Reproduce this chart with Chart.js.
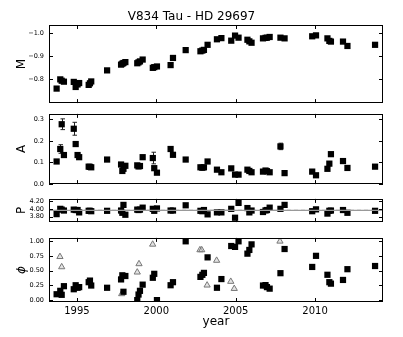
<!DOCTYPE html>
<html>
<head>
<meta charset="utf-8">
<script src="https://cdn.jsdelivr.net/npm/chart.js@4"></script>
<style>
  body { margin: 0; background: #fff; }
  #wrap { position: relative; width: 403px; height: 337px; }
  #wrap canvas { position: absolute; left: 0; }
</style>
</head>
<body>
<div id="wrap">
  <canvas id="cM" width="403" height="112" style="top:0"></canvas>
  <canvas id="cA" width="403" height="88" style="top:105px"></canvas>
  <canvas id="cP" width="403" height="41" style="top:190px"></canvas>
  <canvas id="cPhi" width="403" height="108" style="top:229px"></canvas>
</div>
<script>
// observing epochs (shared by the M, A, P and phi panels)
var year = [1993.72, 1993.95, 1994.04, 1994.18, 1994.80, 1994.92, 1995.04, 1995.14, 1995.74, 1995.82,
            1995.90, 1996.90, 1997.78, 1997.86, 1997.93, 1998.05, 1998.80, 1998.88, 1998.97, 1999.14,
            1999.78, 1999.87, 2000.04, 2000.90, 2001.05, 2001.85, 2002.78, 2002.90, 2003.00, 2003.23,
            2003.82, 2004.10, 2004.72, 2004.96, 2005.18, 2005.74, 2005.86, 2006.00, 2006.72, 2006.88,
            2006.97, 2007.14, 2007.82, 2008.08, 2009.82, 2010.06, 2010.78, 2010.90, 2011.00, 2011.76,
            2012.04, 2013.78];
var mVal = [-0.758, -0.798, -0.792, -0.788, -0.787, -0.765, -0.776, -0.782, -0.774, -0.781,
            -0.789, -0.837, -0.862, -0.866, -0.869, -0.873, -0.868, -0.872, -0.876, -0.884,
            -0.848, -0.851, -0.854, -0.860, -0.891, -0.925, -0.920, -0.923, -0.926, -0.948,
            -0.972, -0.977, -0.966, -0.988, -0.979, -0.970, -0.963, -0.957, -0.976, -0.978,
            -0.979, -0.982, -0.979, -0.976, -0.985, -0.989, -0.976, -0.965, -0.962, -0.962,
            -0.943, -0.948];
var aVal = [0.104, 0.162, 0.277, 0.134, 0.256, 0.185, 0.134, 0.124, 0.080, 0.079,
            0.077, 0.113, 0.090, 0.060, 0.070, 0.084, 0.086, 0.081, 0.083, 0.124,
            0.120, 0.073, 0.052, 0.162, 0.135, 0.113, 0.077, 0.075, 0.077, 0.104,
            0.066, 0.054, 0.072, 0.043, 0.043, 0.066, 0.060, 0.054, 0.057, 0.062,
            0.059, 0.054, 0.174, 0.050, 0.057, 0.040, 0.070, 0.094, 0.138, 0.106,
            0.074, 0.080];
var aErr = [0, 0.020, 0.025, 0, 0.030, 0, 0, 0, 0, 0,
            0, 0, 0, 0, 0, 0, 0, 0, 0, 0,
            0.027, 0, 0, 0, 0, 0, 0, 0, 0, 0,
            0, 0, 0, 0, 0, 0, 0, 0, 0, 0,
            0, 0, 0.015, 0, 0, 0, 0, 0, 0, 0,
            0, 0];
var pVal = [3.866, 4.00, 3.98, 3.957, 3.98, 3.97, 3.97, 3.91, 3.95, 3.95,
            3.94, 3.95, 3.957, 3.90, 4.10, 3.85, 3.98, 3.97, 3.98, 4.03,
            4.00, 3.95, 4.01, 3.957, 3.957, 4.09, 3.95, 3.94, 3.97, 3.86,
            3.91, 3.91, 4.00, 3.775, 4.15, 4.02, 3.91, 3.957, 3.92, 3.96,
            3.97, 4.03, 4.00, 4.10, 3.94, 3.987, 3.88, 3.95, 3.957, 3.97,
            3.90, 3.95];
var pMean = 3.96;
var phiVal = [0.10, 0.158, 0.09, 0.237, 0.185, 0.253, 0.21, 0.221, 0.305, 0.332,
              0.248, 0.21, 0.352, 0.422, 0.142, 0.41, 0.0, 0.095, 0.158, 0.263,
              0.38, 0.447, 0.0, 0.253, 0.305, 1.0, 0.395, 0.43, 0.463, 0.727,
              0.21, 0.358, 0.92, 0.905, 1.0, 0.79, 0.853, 0.948, 0.248, 0.255,
              0.221, 0.195, 0.458, 0.869, 0.564, 0.753, 0.431, 0.305, 0.28, 0.343,
              0.526, 0.58];
// secondary phases (open triangles)
var triYear = [1993.93, 1994.04, 1997.82, 1998.80, 1998.91, 1999.77, 2002.75, 2002.86, 2003.20, 2003.80, 2004.69, 2004.91, 2007.79];
var triPhi  = [0.738, 0.564, 0.106, 0.474, 0.616, 0.948, 0.853, 0.853, 0.253, 0.674, 0.316, 0.195, 1.0];

// tick labels
var xTicks = [1995, 2000, 2005, 2010];
var mTicks = [-1.0, -0.9, -0.8];
var aTicks = [0.0, 0.1, 0.2, 0.3];
var pTicks = [3.80, 4.00, 4.20];
var phiTicks = [0.00, 0.25, 0.50, 0.75, 1.00];

var FONT = 'DejaVu Sans';
var X_MIN = 1993.24, X_MAX = 2014.28;

function pts(xs, ys) {
    return xs.map(function (v, i) { return { x: v, y: ys[i] }; });
}

// frame + inward ticks like matplotlib
var panelFrame = {
    id: 'panelFrame',
    afterDraw: function (chart) {
        var ctx = chart.ctx, a = chart.chartArea, x = chart.scales.x, y = chart.scales.y;
        var yList = (y.ticks || []).map(function (t) { return t.value; });
        ctx.save();
        ctx.strokeStyle = '#000';
        ctx.lineWidth = 1;
        ctx.strokeRect(Math.round(a.left) + 0.5, Math.round(a.top) + 0.5,
                       Math.round(a.right - a.left) - 1, Math.round(a.bottom - a.top) - 1);
        ctx.beginPath();
        xTicks.forEach(function (v) {
            var px = Math.round(x.getPixelForValue(v)) + 0.5;
            ctx.moveTo(px, a.top); ctx.lineTo(px, a.top + 4);
            ctx.moveTo(px, a.bottom); ctx.lineTo(px, a.bottom - 4);
        });
        yList.forEach(function (v) {
            var py = Math.round(y.getPixelForValue(v)) + 0.5;
            ctx.moveTo(a.left, py); ctx.lineTo(a.left + 4, py);
            ctx.moveTo(a.right, py); ctx.lineTo(a.right - 4, py);
        });
        ctx.stroke();
        ctx.restore();
    }
};

// error bars for the A panel
var errBars = {
    id: 'errBars',
    beforeDatasetsDraw: function (chart) {
        if (chart.canvas.id !== 'cA') return;
        var ctx = chart.ctx, x = chart.scales.x, y = chart.scales.y;
        ctx.save();
        ctx.strokeStyle = '#222';
        ctx.lineWidth = 1;
        ctx.beginPath();
        year.forEach(function (yr, i) {
            if (!aErr[i]) return;
            var px = Math.round(x.getPixelForValue(yr)) + 0.5;
            var y1 = y.getPixelForValue(aVal[i] - aErr[i]);
            var y2 = y.getPixelForValue(aVal[i] + aErr[i]);
            ctx.moveTo(px, y1); ctx.lineTo(px, y2);
            ctx.moveTo(px - 2, y1); ctx.lineTo(px + 2.5, y1);
            ctx.moveTo(px - 2, y2); ctx.lineTo(px + 2.5, y2);
        });
        ctx.stroke();
        ctx.restore();
    }
};

function fixTicks(list) {
    return function (s) { s.ticks = list.map(function (v) { return { value: v }; }); };
}

function squares(data) {
    return {
        data: data, pointStyle: 'rect', pointRadius: 4.4, pointHoverRadius: 4.4,
        backgroundColor: '#000', borderColor: '#000', borderWidth: 0, clip: 0
    };
}

function makeChart(id, o) {
    var showX = !!o.showX;
    return new Chart(document.getElementById(id), {
        type: 'scatter',
        data: { datasets: o.datasets },
        plugins: [panelFrame, errBars],
        options: {
            responsive: false,
            animation: false,
            layout: { padding: { left: 0, right: 20, top: o.padTop, bottom: o.padBottom } },
            plugins: {
                legend: { display: false },
                tooltip: { enabled: false },
                title: o.title ? {
                    display: true, text: o.title, color: '#000',
                    font: { family: FONT, size: 12, weight: 'normal' },
                    padding: { top: 10, bottom: 0.6 }
                } : { display: false }
            },
            scales: {
                x: {
                    type: 'linear', min: X_MIN, max: X_MAX,
                    display: showX,
                    afterBuildTicks: fixTicks(xTicks),
                    afterFit: function (s) { if (showX) s.height = 35; },
                    grid: { display: false, drawTicks: false },
                    border: { display: false },
                    ticks: {
                        color: '#000', padding: 3, maxRotation: 0,
                        font: { family: FONT, size: 10 },
                        callback: function (v) { return String(v); }
                    },
                    title: {
                        display: showX, text: 'year', color: '#000',
                        font: { family: FONT, size: 12 },
                        padding: { top: 0, bottom: 7.5 }
                    }
                },
                y: {
                    type: 'linear', min: o.min, max: o.max, reverse: !!o.reverse,
                    afterBuildTicks: fixTicks(o.ticks),
                    afterFit: function (s) { s.width = 49; },
                    grid: { display: false, drawTicks: false },
                    border: { display: false },
                    ticks: {
                        color: '#000', padding: 5,
                        font: { family: FONT, size: 6.5 },
                        callback: o.fmt
                    },
                    title: {
                        display: true, text: o.label, color: '#000',
                        font: { family: FONT, size: 12, style: o.italic ? 'italic' : 'normal' },
                        padding: { top: 14.8, bottom: 0 }
                    }
                }
            }
        }
    });
}

makeChart('cM', {
    title: 'V834 Tau - HD 29697', label: 'M',
    padTop: 0, padBottom: 4,
    min: -1.034, max: -0.695, reverse: true, ticks: mTicks,
    fmt: function (v) { return (v < 0 ? '\u2212' : '') + Math.abs(v).toFixed(1); },
    datasets: [squares(pts(year, mVal))]
});

makeChart('cA', {
    label: 'A', padTop: 4, padBottom: 4,
    min: -0.001, max: 0.325, ticks: aTicks,
    fmt: function (v) { return v.toFixed(1); },
    datasets: [squares(pts(year, aVal))]
});

makeChart('cP', {
    label: 'P', padTop: 4, padBottom: 4,
    min: 3.664, max: 4.252, ticks: pTicks,
    fmt: function (v) { return v.toFixed(2); },
    datasets: [
        { type: 'line', data: [{ x: X_MIN, y: pMean }, { x: X_MAX, y: pMean }],
          borderColor: '#999', borderWidth: 1.2, pointRadius: 0, clip: 0 },
        { type: 'line', data: [{ x: X_MIN, y: pMean }, { x: X_MAX, y: pMean }],
          borderColor: '#000', borderWidth: 1, borderDash: [4, 3], pointRadius: 0, clip: 0 },
        squares(pts(year, pVal))
    ]
});

makeChart('cPhi', {
    label: '\u03D5', italic: true, showX: true, padTop: 4, padBottom: 0,
    min: -0.032, max: 1.058, ticks: phiTicks,
    fmt: function (v) { return v.toFixed(2); },
    datasets: [
        squares(pts(year, phiVal)),
        { data: pts(triYear, triPhi), pointStyle: 'triangle', pointRadius: 3.6, pointHoverRadius: 3.6,
          backgroundColor: 'rgba(200,200,200,0.5)', borderColor: '#777', borderWidth: 1, clip: 0 }
    ]
});
</script>
</body>
</html>
